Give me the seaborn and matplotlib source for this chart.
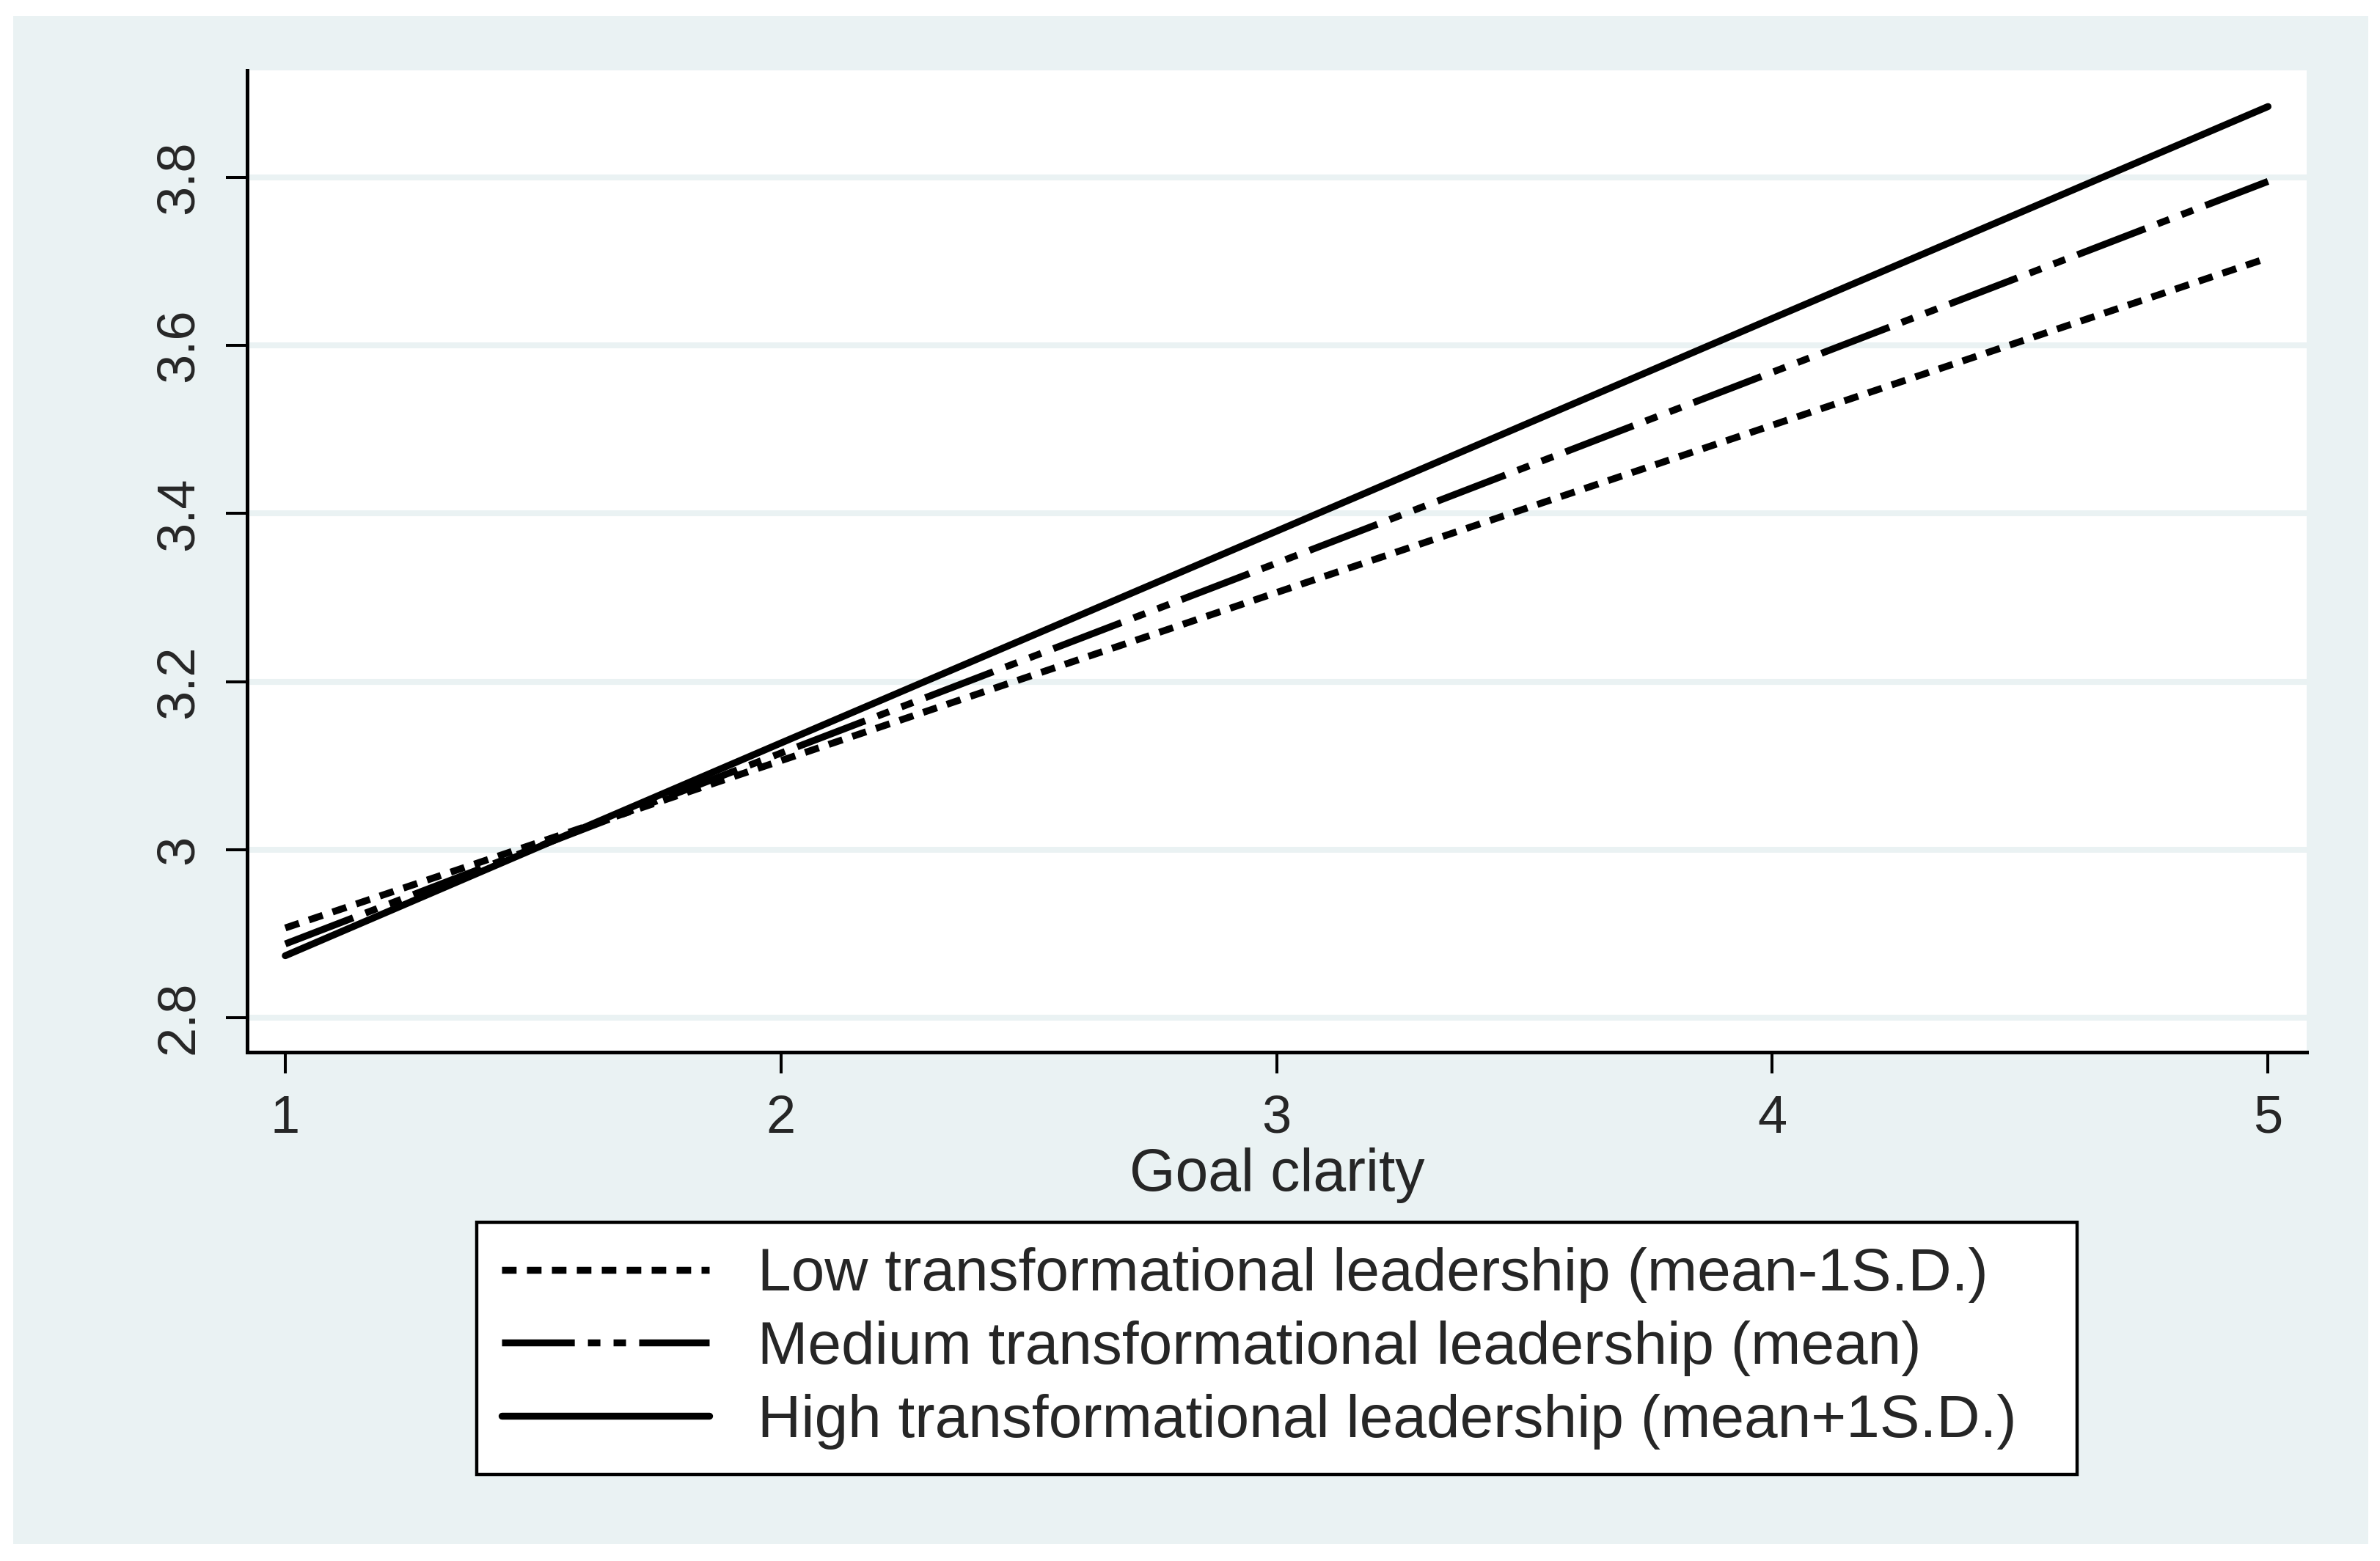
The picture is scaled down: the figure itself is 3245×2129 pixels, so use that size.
import numpy as np
import pandas as pd
import matplotlib
matplotlib.use("Agg")
import matplotlib.pyplot as plt
import seaborn as sns
from matplotlib.patches import Rectangle

# values
goal_clarity = [1, 2, 3, 4, 5]
low_tl = [2.907, 3.106, 3.306, 3.505, 3.704]
medium_tl = [2.888, 3.115, 3.341, 3.568, 3.795]
high_tl = [2.874, 3.127, 3.379, 3.632, 3.884]
series_names = [
    "Low transformational leadership (mean-1S.D.)",
    "Medium transformational leadership (mean)",
    "High transformational leadership (mean+1S.D.)",
]
y_ticks = [2.8, 3.0, 3.2, 3.4, 3.6, 3.8]
y_ticklabels = ["2.8", "3", "3.2", "3.4", "3.6", "3.8"]
x_ticks = [1, 2, 3, 4, 5]


def main():
    sns.set_theme(style="white")
    plt.rcParams["font.family"] = ["Liberation Sans", "DejaVu Sans"]

    bg = "#EAF2F3"
    df = pd.DataFrame({
        "x": goal_clarity * 3,
        "y": low_tl + medium_tl + high_tl,
        "series": [series_names[0]] * 5 + [series_names[1]] * 5 + [series_names[2]] * 5,
    })

    fig = plt.figure(figsize=(32.45, 21.29), dpi=100, facecolor="white")
    fig.patches.append(Rectangle((0.00555, 0.0108), 0.9895, 0.9789,
                                 transform=fig.transFigure, facecolor=bg,
                                 edgecolor="none", zorder=-10))
    ax = fig.add_axes([0.1040, 0.3262, 0.9692 - 0.1040, 0.9549 - 0.3262])
    ax.set_facecolor("white")

    dashes = {
        series_names[0]: (2.1, 1.5),
        series_names[1]: (10.5, 1.9, 1.8, 1.9, 1.8, 1.9),
        series_names[2]: "",
    }
    lw = 6.8
    sns.lineplot(data=df, x="x", y="y", hue="series", style="series",
                 palette=["black"] * 3, dashes=dashes, linewidth=lw,
                 ax=ax, legend=False)

    ax.set_xlim(0.9238, 5.078)
    ax.set_ylim(2.7597, 3.927)
    ax.set_xticks(x_ticks)
    ax.set_yticks(y_ticks)
    ax.set_yticklabels(y_ticklabels, rotation=90, va="center")
    ax.tick_params(axis="both", direction="out", length=21, width=2.9,
                   color="black", labelsize=52, pad=21, left=True, bottom=True)
    ax.tick_params(axis="y", pad=22)

    ax.grid(axis="y", color=bg, linewidth=5.8)
    ax.grid(axis="x", visible=False)
    ax.set_axisbelow(True)

    for side in ["top", "right"]:
        ax.spines[side].set_visible(False)
    for side in ["left", "bottom"]:
        ax.spines[side].set_color("black")
        ax.spines[side].set_linewidth(3.6)

    ax.set_xlabel("Goal clarity", fontsize=58, labelpad=4)
    ax.set_ylabel("")

    handles = ax.get_lines()[:3]
    leg = fig.legend(handles, series_names, loc="center",
                     bbox_to_anchor=(0.2003, 0.0568, 0.6724, 0.1588),
                     mode="expand", fontsize=59, frameon=True, fancybox=False,
                     handlelength=3.45, handletextpad=0.8, borderpad=0.42,
                     labelspacing=0.29, borderaxespad=0)
    frame = leg.get_frame()
    frame.set_edgecolor("black")
    frame.set_linewidth(3.2)
    frame.set_facecolor("white")
    frame.set_alpha(1)

    fig.savefig("out.png", dpi=100, facecolor="white")


if __name__ == "__main__":
    main()
